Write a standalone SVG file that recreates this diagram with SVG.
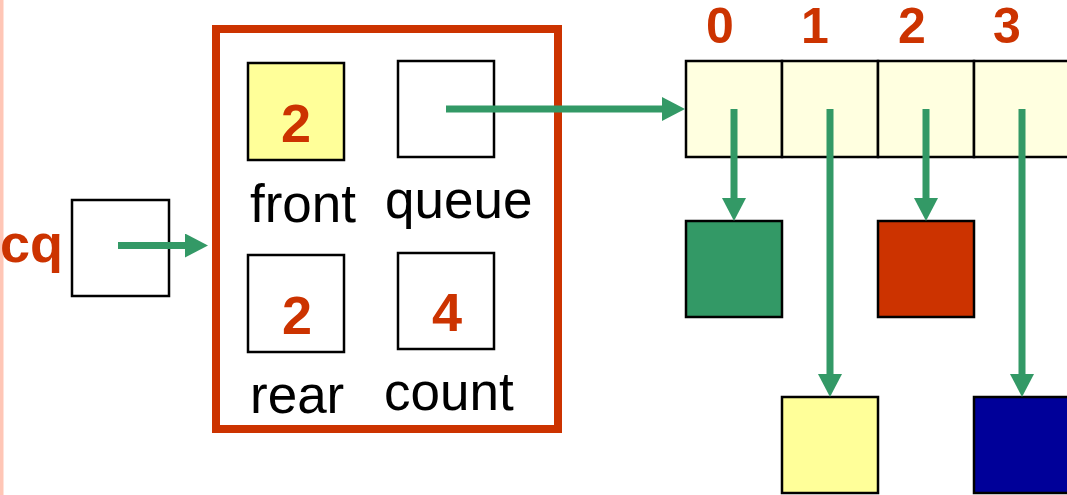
<svg xmlns="http://www.w3.org/2000/svg" width="1067" height="495" viewBox="0 0 1067 495">
<defs>
<style>
.box{fill:#fff;stroke:#000;stroke-width:2.5}
.cell{fill:#FFFFE0;stroke:#000;stroke-width:2.5}
.num{font-family:"Liberation Sans",Arial,sans-serif;font-weight:bold;fill:#CC3300;text-anchor:middle}
.lbl{font-family:"Liberation Sans",Arial,sans-serif;fill:#000;font-size:53px}
.conn{stroke:#339966;stroke-width:7;fill:none}
</style>
<marker id="ah" viewBox="0 0 23 24" refX="0" refY="12" markerWidth="23" markerHeight="24" markerUnits="userSpaceOnUse" orient="auto">
<path d="M0,0 L23,12 L0,24 Z" fill="#339966"/>
</marker>
</defs>
<rect x="0" y="0" width="1067" height="495" fill="#fff"/>
<rect x="0" y="0" width="3.5" height="495" fill="#FFC6B6"/>

<g id="cq">
<text class="num" x="0" y="262" font-size="54" style="text-anchor:start">cq</text>
<rect class="box" x="72" y="200" width="97" height="96"/>
</g>

<g id="struct">
<rect x="216" y="29" width="342" height="400" fill="#fff" stroke="#CC3300" stroke-width="8"/>
</g>

<g id="front">
<rect class="box" x="248" y="63" width="96" height="97" style="fill:#FFFF99"/>
<text class="num" x="296" y="142" font-size="54">2</text>
<text class="lbl" x="250" y="222">front</text>
</g>

<g id="queue">
<rect class="box" x="398" y="61" width="96" height="96"/>
<text class="lbl" x="385" y="218">queue</text>
</g>

<g id="rear">
<rect class="box" x="248" y="255" width="96" height="97"/>
<text class="num" x="297" y="334" font-size="54">2</text>
<text class="lbl" x="250" y="413">rear</text>
</g>

<g id="count">
<rect class="box" x="398" y="253" width="96" height="96"/>
<text class="num" x="447" y="331" font-size="54">4</text>
<text class="lbl" x="384" y="410">count</text>
</g>

<g id="array">
<rect class="cell" x="686" y="61" width="96" height="96"/>
<rect class="cell" x="782" y="61" width="96" height="96"/>
<rect class="cell" x="878" y="61" width="96" height="96"/>
<rect class="cell" x="974" y="61" width="96" height="96"/>
<text class="num" x="720" y="43" font-size="50">0</text>
<text class="num" x="815" y="43" font-size="50">1</text>
<text class="num" x="912" y="43" font-size="50">2</text>
<text class="num" x="1007" y="43" font-size="50">3</text>
</g>

<g id="item0"><rect x="686" y="221" width="96" height="96" fill="#339966" stroke="#000" stroke-width="2.5"/></g>
<g id="item2"><rect x="878" y="221" width="96" height="96" fill="#CC3300" stroke="#000" stroke-width="2.5"/></g>
<g id="item1"><rect x="782" y="397" width="96" height="96" fill="#FFFF99" stroke="#000" stroke-width="2.5"/></g>
<g id="item3"><rect x="974" y="397" width="96" height="96" fill="#000099" stroke="#000" stroke-width="2.5"/></g>

<g id="connectors">
<line class="conn" x1="118" y1="245.5" x2="185" y2="245.5" marker-end="url(#ah)"/>
<line class="conn" x1="446" y1="109" x2="662" y2="109" marker-end="url(#ah)"/>
<line class="conn" x1="734" y1="109" x2="734" y2="198" marker-end="url(#ah)"/>
<line class="conn" x1="830" y1="109" x2="830" y2="374" marker-end="url(#ah)"/>
<line class="conn" x1="926" y1="109" x2="926" y2="198" marker-end="url(#ah)"/>
<line class="conn" x1="1022" y1="109" x2="1022" y2="374" marker-end="url(#ah)"/>
</g>
</svg>
